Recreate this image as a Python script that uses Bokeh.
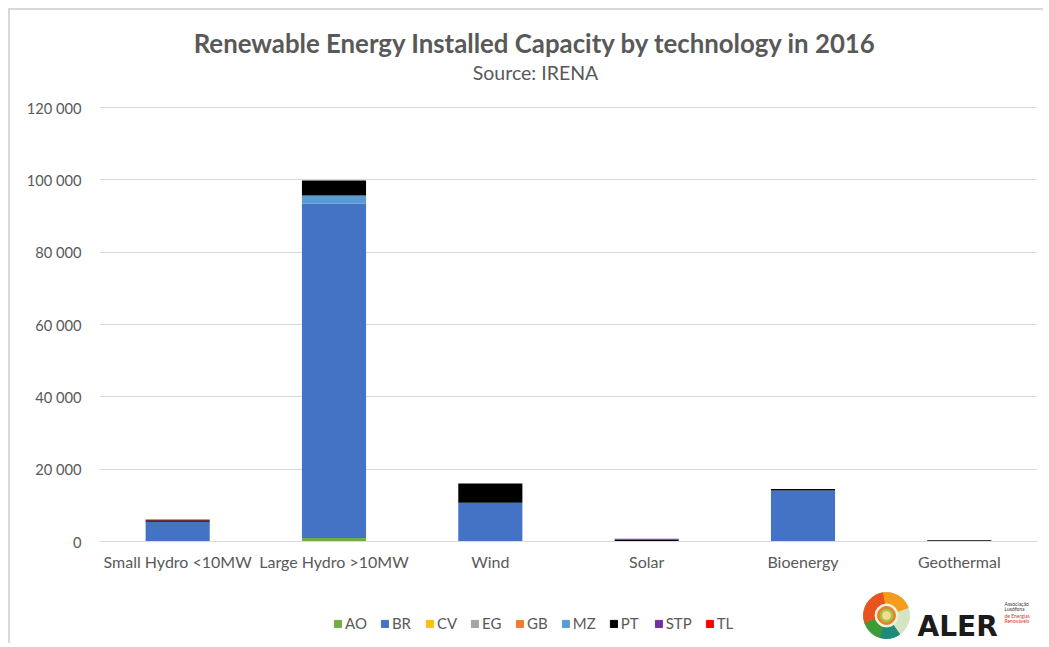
from bokeh.plotting import figure
from bokeh.layouts import column
from bokeh.models import ColumnDataSource, FactorRange, Range1d, Label, FixedTicker, Legend, LegendItem
from bokeh.core.properties import value
from bokeh.embed import file_html
from bokeh.resources import INLINE

# ---- data (MW) ----
categories = ["Small Hydro <10MW", "Large Hydro >10MW", "Wind", "Solar", "Bioenergy", "Geothermal"]
countries = ["AO", "BR", "CV", "EG", "GB", "MZ", "PT", "STP", "TL"]
AO = [30, 1000, 0, 10, 0, 0]
BR = [5400, 92400, 10700, 60, 14100, 0]
CV = [0, 0, 25, 8, 0, 0]
EG = [0, 0, 0, 0, 0, 0]
GB = [0, 0, 0, 1, 0, 0]
MZ = [0, 2300, 0, 0, 0, 0]
PT = [420, 4100, 5300, 470, 420, 350]
STP = [10, 0, 0, 180, 0, 0]
TL = [250, 0, 0, 0, 0, 0]
colors = ["#70AD47", "#4472C4", "#FFC000", "#A5A5A5", "#ED7D31", "#5B9BD5", "#000000", "#7030A0", "#FF0000"]
y_ticks = [0, 20000, 40000, 60000, 80000, 100000, 120000]
y_tick_labels = ["0", "20 000", "40 000", "60 000", "80 000", "100 000", "120 000"]
title_text = "Renewable Energy Installed Capacity by technology in 2016"
subtitle_text = "Source: IRENA"

FONT = "Lato"
GREY = "#595959"
BORDER = "2px solid #d9d9d9"

# frame: 434 px for 120 000; extra headroom above for the titles
FRAME_H = 531
Y_TOP = 120000 * FRAME_H / 434

source = ColumnDataSource(data=dict(cat=categories, AO=AO, BR=BR, CV=CV, EG=EG, GB=GB,
                                    MZ=MZ, PT=PT, STP=STP, TL=TL))

p = figure(x_range=FactorRange(*categories), y_range=Range1d(0, Y_TOP),
           width=1035, height=580, output_backend="svg", toolbar_location=None,
           min_border_left=89, min_border_right=8, min_border_top=0, min_border_bottom=49,
           styles={"border-left": BORDER, "border-top": BORDER})
p.x_range.range_padding = 0

p.vbar_stack(countries, x="cat", width=0.41, color=colors, source=source, line_width=0)

p.outline_line_color = None
p.xgrid.grid_line_color = None
p.ygrid.grid_line_color = "#d9d9d9"
p.ygrid.grid_line_width = 1

p.yaxis.ticker = FixedTicker(ticks=y_ticks)
p.yaxis.major_label_overrides = {t: l for t, l in zip(y_ticks, y_tick_labels)}
p.yaxis.axis_line_color = None
p.yaxis.major_tick_line_color = None
p.yaxis.minor_tick_line_color = None
p.yaxis.major_label_standoff = 12
p.yaxis.major_label_text_font = FONT
p.yaxis.major_label_text_font_size = "14.7px"
p.yaxis.major_label_text_color = GREY

p.xaxis.axis_line_color = "#d9d9d9"
p.xaxis.major_tick_line_color = None
p.xaxis.minor_tick_line_color = None
p.xaxis.major_label_standoff = 4
p.xaxis.major_label_text_font = FONT
p.xaxis.major_label_text_font_size = "16px"
p.xaxis.major_label_text_color = GREY

# title & subtitle (frame-relative screen units, inside the frame's headroom)
p.add_layout(Label(x=436, y=499, x_units="screen", y_units="screen", text=title_text,
                   text_align="center", text_baseline="middle", text_font=FONT,
                   text_font_style="bold", text_font_size="25.8px", text_color=GREY))
p.add_layout(Label(x=436, y=469, x_units="screen", y_units="screen", text=subtitle_text,
                   text_align="center", text_baseline="middle", text_font=FONT,
                   text_font_size="19.5px", text_color=GREY))

# ---- bottom strip: legend + logo (frame aligned with the chart's: x = page pixels) ----
q = figure(width=1035, height=55, output_backend="svg", toolbar_location=None,
           x_range=Range1d(99, 1037), y_range=Range1d(0, 55),
           min_border_left=0, min_border_right=0, min_border_top=0, min_border_bottom=0,
           styles={"border-left": BORDER})
q.axis.visible = False
q.grid.visible = False
q.outline_line_color = None

items = []
for name, col in zip(countries, colors):
    # legend swatch only: a bar placed outside the visible strip
    r = q.vbar(x=[3000], top=[-100], bottom=[-200], width=1, color=col)
    items.append(LegendItem(label=name, renderers=[r]))
lg = Legend(items=items, orientation="horizontal", location=(234, 11))
lg.border_line_color = None
lg.background_fill_alpha = 0
lg.label_text_font = FONT
lg.label_text_font_size = "15px"
lg.label_text_color = GREY
lg.glyph_width = 9
lg.glyph_height = 9
lg.label_height = 18
lg.label_standoff = 3
lg.spacing = 13
lg.padding = 0
lg.margin = 0
q.add_layout(lg)

# logo swirl
cx, cy = 886, 28
q.circle(x=[cx], y=[cy], radius=23, color="#d5e4c4")
for a0, a1, col in [(20, 100, "#f39c1f"), (100, 200, "#e9541e"),
                    (200, 255, "#3d9b35"), (255, 305, "#1d8a7c")]:
    q.wedge(x=[cx], y=[cy], radius=23, start_angle=a0, end_angle=a1,
            start_angle_units="deg", end_angle_units="deg", color=col)
for rad, col in [(11.5, "#f4f0e0"), (9, "#ef7d22"), (6.5, "#9cc451"), (4, "#f6dc8a")]:
    q.circle(x=[cx], y=[cy], radius=rad, color=col)

q.text(x=[917], y=[17], text=["ALER"], text_font=value("DejaVu Sans"), text_font_style="bold",
       text_font_size="28px", text_color="#1b1b1b", text_baseline="alphabetic")
q.text(x=[1004, 1004, 1004, 1004], y=[40, 35, 28, 23],
       text=["Associação", "Lusófona", "de Energias", "Renováveis"],
       text_font=value(FONT), text_font_size="5px",
       text_color=["#333333", "#333333", "#e0331b", "#e0331b"], text_baseline="middle")

layout = column(p, q, margin=(8, 0, 0, 8))

open("out.html", "w").write(file_html(layout, INLINE))
